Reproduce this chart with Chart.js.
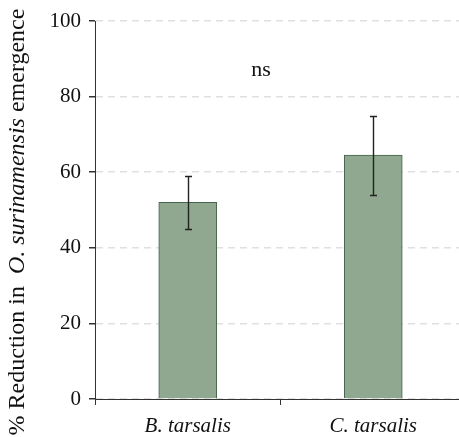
<!DOCTYPE html>
<html>
<head>
<meta charset="utf-8">
<script src="https://cdn.jsdelivr.net/npm/chart.js@4"></script>
<style>
  html, body { margin: 0; padding: 0; background: #fff; overflow: hidden; }
  canvas { display: block; }
</style>
</head>
<body>
<canvas id="chart" width="466" height="437"></canvas>
<script>
// values
let categories = ['B. tarsalis', 'C. tarsalis'];
let reduction = [52, 64.5];
let errLow = [45, 54];
let errHigh = [59, 75];
let yTicks = [0, 20, 40, 60, 80, 100];

let serif = '"Liberation Serif", "Times New Roman", serif';

// error bars and the "ns" label
let errorBars = {
  id: 'errorBars',
  afterDatasetsDraw(chart) {
    let ctx = chart.ctx;
    let meta = chart.getDatasetMeta(0);
    let y = chart.scales.y;
    ctx.save();
    ctx.strokeStyle = '#222';
    ctx.lineWidth = 1.4;
    meta.data.forEach((bar, i) => {
      let x = Math.round(bar.x) + 0.5;
      let top = Math.round(y.getPixelForValue(errHigh[i])) + 0.5;
      let bottom = Math.round(y.getPixelForValue(errLow[i])) + 0.5;
      ctx.beginPath();
      ctx.moveTo(x, top);
      ctx.lineTo(x, bottom);
      ctx.moveTo(x - 3.5, top);
      ctx.lineTo(x + 3.5, top);
      ctx.moveTo(x - 3.5, bottom);
      ctx.lineTo(x + 3.5, bottom);
      ctx.stroke();
    });

    ctx.fillStyle = '#111';
    ctx.font = '22px ' + serif;
    ctx.textAlign = 'center';
    ctx.textBaseline = 'alphabetic';
    ctx.fillText('ns', 261, 76);
    ctx.restore();
  }
};

// y title with italic species name
let yTitle = {
  id: 'yTitle',
  afterDraw(chart) {
    let ctx = chart.ctx;
    let parts = [
      ['% Reduction in  ', false],
      ['O. surinamensis', true],
      [' emergence', false]
    ];
    let fontFor = (it) => (it ? 'italic ' : '') + '24px ' + serif;
    let total = 0;
    parts.forEach((p) => {
      ctx.font = fontFor(p[1]);
      total += ctx.measureText(p[0]).width;
    });
    ctx.save();
    ctx.translate(24, 222);
    ctx.rotate(-Math.PI / 2);
    ctx.fillStyle = '#111';
    ctx.textBaseline = 'alphabetic';
    ctx.textAlign = 'left';
    let x = -total / 2;
    parts.forEach((p) => {
      ctx.font = fontFor(p[1]);
      ctx.fillText(p[0], x, 0);
      x += ctx.measureText(p[0]).width;
    });
    ctx.restore();
  }
};

new Chart(document.getElementById('chart').getContext('2d'), {
  type: 'bar',
  data: {
    labels: categories,
    datasets: [{
      data: reduction,
      backgroundColor: '#8fa88f',
      borderColor: '#46624a',
      borderWidth: 1,
      barThickness: 58
    }]
  },
  options: {
    responsive: false,
    animation: false,
    layout: {
      padding: { left: 30, top: 21, right: 0, bottom: 0 }
    },
    plugins: {
      legend: { display: false },
      tooltip: { enabled: false }
    },
    scales: {
      x: {
        offset: true,
        afterFit(scale) { scale.height = 38; },
        grid: {
          offset: true,
          drawOnChartArea: false,
          drawTicks: true,
          tickLength: 6,
          tickColor: '#333'
        },
        border: { display: true, color: '#333', width: 1 },
        ticks: {
          color: '#111',
          padding: 9,
          font: { family: serif, size: 21, style: 'italic' }
        }
      },
      y: {
        min: 0,
        max: 100,
        afterFit(scale) { scale.width = 65; },
        afterBuildTicks(scale) {
          scale.ticks = yTicks.map((v) => ({ value: v }));
        },
        grid: {
          color: '#e0e0e0',
          lineWidth: 1.5,
          tickLength: 6,
          tickColor: '#333',
          tickBorderDash: []
        },
        border: { display: true, color: '#333', width: 1, dash: [7, 5] },
        ticks: {
          color: '#111',
          padding: 8,
          font: { family: serif, size: 21 }
        }
      }
    }
  },
  plugins: [errorBars, yTitle]
});
</script>
</body>
</html>
